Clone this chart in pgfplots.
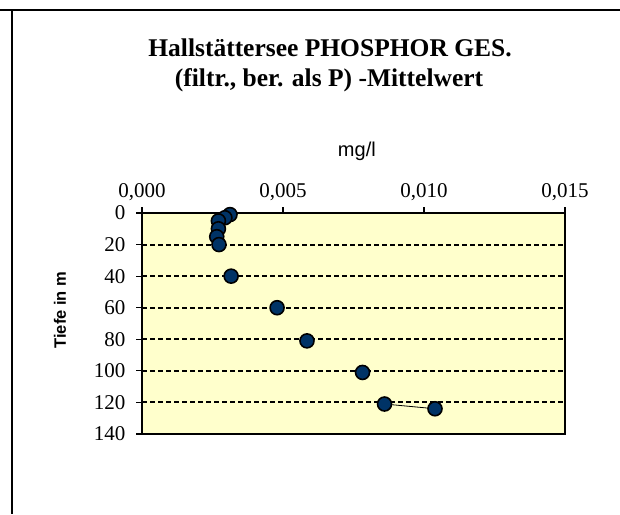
\documentclass[border=0pt]{standalone}
\usepackage{fontspec}
\setmainfont{Liberation Serif}
\setsansfont{Liberation Sans}
\usepackage{pgfplots}
\pgfplotsset{compat=1.18}
\definecolor{plotbg}{RGB}{255,255,204}
\definecolor{marknavy}{RGB}{0,51,102}

\begin{document}
\begin{tikzpicture}[x=1pt,y=1pt]
\path[use as bounding box] (0,0) rectangle (620,-514);
\draw[line width=2pt] (0,-10) -- (620,-10);
\draw[line width=2pt] (12,-10) -- (12,-514);
\node[anchor=base,font=\fontsize{25.5}{25.5}\selectfont\bfseries] at (330,-56) {Hallstättersee PHOSPHOR GES.};
\node[anchor=base,font=\fontsize{25.5}{25.5}\selectfont\bfseries] at (329,-86) {(filtr., ber. als P) -Mittelwert};
\begin{axis}[
  at={(142pt,-213pt)}, anchor=north west,
  scale only axis, width=423pt, height=221pt,
  xmin=0, xmax=0.015, ymin=0, ymax=140,
  y dir=reverse,
  xtick={0,0.005,0.01,0.015},
  ytick={0,20,...,140},
  xtick pos=right, xticklabel pos=right,
  ytick pos=left,
  tick align=outside,
  major tick length=6pt,
  tick style={black, line width=1.2pt},
  scaled x ticks=false,
  xticklabel style={yshift=3pt, /pgf/number format/.cd, fixed, fixed zerofill, precision=3, use comma},
  yticklabel style={xshift=-7pt},
  /pgf/number format/assume math mode=true,
  tick label style={font=\fontsize{21}{21}\selectfont},
  axis line style={line width=2pt},
  axis background/.style={fill=plotbg},
  ymajorgrids,
  grid style={black, line width=2pt, dash pattern=on 5pt off 3pt},
  xlabel={\sffamily\fontsize{20}{20}\selectfont mg/l},
  xlabel style={at={(axis description cs:0.508,1)}, anchor=base, yshift=57pt},
  ylabel={\sffamily\bfseries\fontsize{16.5}{16.5}\selectfont Tiefe in m},
  ylabel style={at={(axis description cs:-0.194,0.561)}, anchor=center},
]
\addplot[black, line width=0.8pt, no marks] coordinates {(0.00860,121) (0.01039,124)};
\addplot[only marks, mark=*, mark size=7pt, mark options={fill=marknavy, draw=black, line width=1.6pt}] coordinates {
  (0.00312,1) (0.00294,3) (0.00271,5) (0.00271,10) (0.00265,15) (0.00273,20)
  (0.00316,40) (0.00479,60) (0.00585,81) (0.00782,101) (0.00860,121) (0.01039,124)
};
\end{axis}
\end{tikzpicture}
\end{document}
